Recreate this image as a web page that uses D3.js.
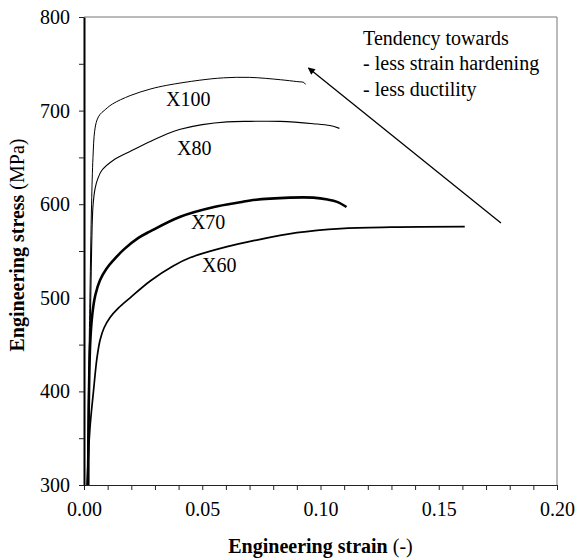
<!DOCTYPE html>
<html>
<head>
<meta charset="utf-8">
<script src="https://cdn.jsdelivr.net/npm/d3@7"></script>
<style>
  body { margin: 0; background: #fff; }
  svg text { font-family: "Liberation Serif", "Times New Roman", serif; fill: #000; }
</style>
</head>
<body>
<svg id="chart"></svg>
<script>
// stress-strain curves: [strain, stress MPa]
const x100 = [[0.0013,300],[0.0025,500],[0.0032,600],[0.0038,650],[0.0045,678],[0.0055,690],[0.0068,696],
  [0.0085,700],[0.012,707],[0.0195,716],[0.028,723],[0.035,727],[0.049,732.5],[0.059,735],[0.07,735.5],
  [0.083,733],[0.09,731],[0.093,730],[0.0936,728]];
const x80 = [[0.0015,300],[0.0025,450],[0.0032,550],[0.0038,598],[0.0047,617],[0.0058,627],[0.0075,636],
  [0.0124,647],[0.02,657],[0.028,667],[0.035,675],[0.0407,680],[0.05,685],[0.0605,688],[0.0703,688.5],
  [0.083,688.5],[0.097,686],[0.104,684],[0.108,681]];
const x70 = [[0.0018,300],[0.002,380],[0.0026,450],[0.0035,482],[0.0048,503],[0.0068,519],[0.0095,531],
  [0.0124,540],[0.017,552],[0.023,564],[0.028,571],[0.0407,586.6],[0.055,597],[0.066,602],[0.0703,604],
  [0.087,607],[0.097,607],[0.103,605],[0.107,602.5],[0.111,597]];
const x60 = [[0.0013,300],[0.0025,360],[0.004,400],[0.0055,436],[0.0068,455],[0.0085,468],[0.011,479],
  [0.0145,489],[0.0195,500],[0.028,518],[0.0377,534],[0.045,543],[0.0605,554.6],[0.0717,561],[0.09,569.6],
  [0.1085,574],[0.13,575.5],[0.161,576]];

const seriesNames = ["X100", "X80", "X70", "X60"];
const seriesData = [x100, x80, x70, x60];
const seriesWidth = [1, 1.1, 2.6, 1.7];
// label anchors [strain, stress]
const labelPos = [[0.0347,705],[0.0393,652.6],[0.0452,573.5],[0.0499,527.6]];

const noteLines = ["Tendency towards", "- less strain hardening", "- less ductility"];
const notePos = [[0.118,770],[0.118,743.4],[0.118,715.6]];
const arrowFrom = [0.1763, 580];
const arrowTo = [0.0949, 745.5];

const xTicks = d3.range(0, 0.2001, 0.01);
const yTicks = d3.range(300, 801, 50);

const width = 576, height = 559;
const margin = { top: 17, right: 19, bottom: 74, left: 84 };

const svg = d3.select("#chart").attr("width", width).attr("height", height);

const x = d3.scaleLinear().domain([0, 0.2]).range([margin.left, width - margin.right]);
const y = d3.scaleLinear().domain([300, 800]).range([height - margin.bottom, margin.top]);

// top and right frame
svg.append("path")
  .attr("d", `M${x(0)},${y(800)}H${x(0.2)}V${y(300)}`)
  .attr("fill", "none")
  .attr("stroke", "#777")
  .attr("stroke-width", 1);

// x axis
const xAxis = svg.append("g")
  .attr("transform", "translate(0," + y(300) + ")")
  .call(d3.axisBottom(x)
    .tickValues(xTicks)
    .tickSize(5)
    .tickSizeOuter(0)
    .tickPadding(12)
    .tickFormat(d => Math.abs(Math.round(d * 100) % 5) === 0 ? d3.format(".2f")(d) : ""));
xAxis.select(".domain").attr("stroke", "#222");
xAxis.selectAll("line").attr("stroke", "#222");
xAxis.selectAll("text").style("font-size", "20px");

// y axis
const yAxis = svg.append("g")
  .attr("transform", "translate(" + x(0) + ",0)")
  .call(d3.axisLeft(y)
    .tickValues(yTicks)
    .tickSize(5)
    .tickSizeOuter(0)
    .tickPadding(9)
    .tickFormat(d => d % 100 === 0 ? d : ""));
yAxis.select(".domain").attr("stroke", "#000").attr("stroke-width", 2);
yAxis.selectAll("line").attr("stroke", "#222");
yAxis.selectAll("text").style("font-size", "20px");

// curves
const line = d3.line()
  .x(d => x(d[0]))
  .y(d => y(d[1]))
  .curve(d3.curveCatmullRom.alpha(0.5));

svg.append("g")
  .selectAll("path")
  .data(seriesData)
  .join("path")
  .attr("d", line)
  .attr("fill", "none")
  .attr("stroke", "#000")
  .attr("stroke-width", (d, i) => seriesWidth[i])
  .attr("stroke-linejoin", "round");

svg.append("g")
  .selectAll("text")
  .data(seriesNames)
  .join("text")
  .attr("x", (d, i) => x(labelPos[i][0]))
  .attr("y", (d, i) => y(labelPos[i][1]))
  .style("font-size", "20px")
  .text(d => d);

// annotation
svg.append("g")
  .selectAll("text")
  .data(noteLines)
  .join("text")
  .attr("x", (d, i) => x(notePos[i][0]))
  .attr("y", (d, i) => y(notePos[i][1]))
  .style("font-size", "20px")
  .text(d => d);

svg.append("defs").append("marker")
  .attr("id", "head")
  .attr("viewBox", "0 0 10 10")
  .attr("refX", 9)
  .attr("refY", 5)
  .attr("markerWidth", 9)
  .attr("markerHeight", 7)
  .attr("markerUnits", "userSpaceOnUse")
  .attr("orient", "auto")
  .append("path")
  .attr("d", "M0,0L10,5L0,10z")
  .attr("fill", "#000");

svg.append("line")
  .attr("x1", x(arrowFrom[0]))
  .attr("y1", y(arrowFrom[1]))
  .attr("x2", x(arrowTo[0]))
  .attr("y2", y(arrowTo[1]))
  .attr("stroke", "#000")
  .attr("stroke-width", 1.3)
  .attr("marker-end", "url(#head)");

// axis titles
const xt = svg.append("text")
  .attr("x", (x(0) + x(0.2)) / 2)
  .attr("y", 553)
  .attr("text-anchor", "middle")
  .style("font-size", "20px");
xt.append("tspan").style("font-weight", "bold").text("Engineering strain");
xt.append("tspan").text(" (-)");

const yt = svg.append("text")
  .attr("transform", "translate(24," + ((y(300) + y(800)) / 2 - 6) + ")rotate(-90)")
  .attr("text-anchor", "middle")
  .style("font-size", "20px");
yt.append("tspan").style("font-weight", "bold").text("Engineering stress");
yt.append("tspan").text(" (MPa)");
</script>
</body>
</html>
